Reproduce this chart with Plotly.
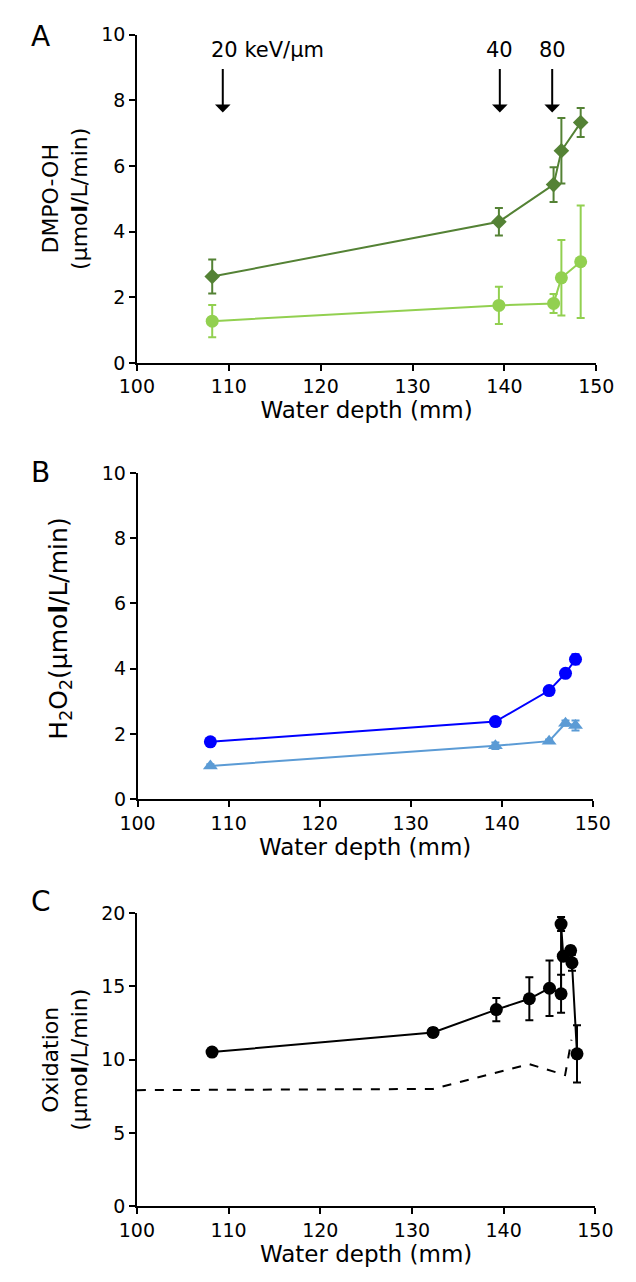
import plotly.graph_objects as go

FONT = "DejaVu Sans"

# Panel A: DMPO-OH
a_x_dark = [108.2, 139.4, 145.35, 146.2, 148.3]
a_y_dark = [2.63, 4.30, 5.43, 6.46, 7.32]
a_e_dark = [0.52, 0.42, 0.53, 1.00, 0.44]
a_x_light = [108.2, 139.4, 145.35, 146.2, 148.3]
a_y_light = [1.27, 1.75, 1.81, 2.59, 3.08]
a_e_light = [0.49, 0.57, 0.29, 1.15, 1.71]

# LET arrows
let_x = [109.35, 139.5, 145.2]
let_labels = ["20 keV/µm", "40", "80"]

# Panel B: H2O2
b_x_blue = [108.0, 139.3, 145.2, 147.0, 148.1]
b_y_blue = [1.76, 2.38, 3.33, 3.86, 4.29]
b_e_blue = [0.05, 0.05, 0.08, 0.08, 0.15]
b_x_lblue = [108.0, 139.3, 145.2, 147.0, 148.1]
b_y_lblue = [1.02, 1.64, 1.78, 2.33, 2.26]
b_e_lblue = [0.05, 0.10, 0.05, 0.08, 0.15]

# Panel C: Oxidation
c_x = [108.2, 132.3, 139.2, 142.8, 145.0, 146.26, 146.26, 146.5, 147.3, 147.45, 148.0]
c_y = [10.52, 11.86, 13.42, 14.16, 14.88, 14.50, 19.26, 17.07, 17.45, 16.62, 10.40]
c_e = [0.0, 0.30, 0.80, 1.47, 1.90, 1.30, 0.48, 0.3, 0.3, 0.55, 1.95]
c_dash_x = [100.0, 132.3, 142.8, 146.7, 147.4]
c_dash_y = [7.92, 8.00, 9.70, 8.95, 11.36]

x_ticks = [100, 110, 120, 130, 140, 150]

W, H = 636, 1282

fig = go.Figure()

def err(vals, color):
    return dict(type="data", array=vals, visible=True, color=color, thickness=2, width=4)

fig.add_trace(go.Scatter(x=a_x_dark, y=a_y_dark, mode="lines+markers", xaxis="x", yaxis="y",
                         line=dict(color="#548235", width=2),
                         marker=dict(symbol="diamond", size=12, color="#548235"),
                         error_y=err(a_e_dark, "#548235"), showlegend=False))
fig.add_trace(go.Scatter(x=a_x_light, y=a_y_light, mode="lines+markers", xaxis="x", yaxis="y",
                         line=dict(color="#92D050", width=2),
                         marker=dict(symbol="circle", size=13, color="#92D050"),
                         error_y=err(a_e_light, "#92D050"), showlegend=False))

fig.add_trace(go.Scatter(x=b_x_blue, y=b_y_blue, mode="lines+markers", xaxis="x2", yaxis="y2",
                         line=dict(color="#0000FF", width=2),
                         marker=dict(symbol="circle", size=13, color="#0000FF"),
                         error_y=err(b_e_blue, "#0000FF"), showlegend=False))
fig.add_trace(go.Scatter(x=b_x_lblue, y=b_y_lblue, mode="lines+markers", xaxis="x2", yaxis="y2",
                         line=dict(color="#5B9BD5", width=2),
                         marker=dict(symbol="triangle-up", size=13, color="#5B9BD5"),
                         error_y=err(b_e_lblue, "#5B9BD5"), showlegend=False))

fig.add_trace(go.Scatter(x=c_dash_x, y=c_dash_y, mode="lines", xaxis="x3", yaxis="y3",
                         line=dict(color="black", width=2, dash="dash"), showlegend=False))
fig.add_trace(go.Scatter(x=c_x, y=c_y, mode="lines+markers", xaxis="x3", yaxis="y3",
                         line=dict(color="black", width=2),
                         marker=dict(symbol="circle", size=13, color="black"),
                         error_y=err(c_e, "black"), showlegend=False))

def ax_common(fs):
    return dict(showline=True, linecolor="black", linewidth=1.5, ticks="outside",
                ticklen=6, tickcolor="black", tickwidth=1.5, showgrid=False, zeroline=False,
                tickfont=dict(family=FONT, size=fs, color="black"))

def xt(fs):
    return dict(text="Water depth (mm)", font=dict(family=FONT, size=fs, color="black"), standoff=4)

def xd(l, r):
    return [l / W, r / W]

def yd(top, bottom):
    return [1 - bottom / H, 1 - top / H]

fig.update_layout(
    width=W, height=H, autosize=False, margin=dict(l=0, r=0, t=0, b=0, pad=0),
    plot_bgcolor="white", paper_bgcolor="white",
    xaxis=dict(domain=xd(126, 613), range=[100, 150], tickvals=x_ticks, anchor="y", title=xt(23), **ax_common(19)),
    yaxis=dict(domain=yd(24, 358), range=[0, 10], dtick=2, anchor="x", **ax_common(19)),
    xaxis2=dict(domain=xd(126.7, 609.3), range=[100, 150], tickvals=x_ticks, anchor="y2", title=xt(23), **ax_common(19)),
    yaxis2=dict(domain=yd(470, 802), range=[0, 10], dtick=2, anchor="x2", **ax_common(19)),
    xaxis3=dict(domain=xd(126, 612), range=[100, 150], tickvals=x_ticks, anchor="y3", title=xt(23), **ax_common(19)),
    yaxis3=dict(domain=yd(918, 1216), range=[0, 20], dtick=5, anchor="x3", **ax_common(19)),
)

anns = []
for xv, lab in zip(let_x, let_labels):
    anns.append(dict(x=xv, y=7.63, xref="x", yref="y", ax=xv, ay=9.0, axref="x", ayref="y",
                     showarrow=True, arrowhead=1, arrowsize=1.3, arrowwidth=2, arrowcolor="black", text=""))
    if lab == let_labels[0]:
        anns.append(dict(x=xv, y=9.53, xref="x", yref="y", text=lab, showarrow=False,
                         xanchor="left", xshift=-14, font=dict(family=FONT, size=21, color="black")))
    else:
        anns.append(dict(x=xv, y=9.53, xref="x", yref="y", text=lab, showarrow=False,
                         xanchor="center", font=dict(family=FONT, size=21, color="black")))

for letter, yp in [("A", 26), ("B", 470), ("C", 906)]:
    anns.append(dict(x=24 / W, y=1 - yp / H, xref="paper", yref="paper", text=letter, showarrow=False,
                     xanchor="center", yanchor="middle", font=dict(family=FONT, size=28, color="black")))

ytitles = [("DMPO-OH<br>(µmo<b>l</b>/L/min)", 50, 191, 22),
           ("H<sub>2</sub>O<sub>2</sub>(µmo<b>l</b>/L/min)", 45, 628, 25),
           ("Oxidation<br>(µmo<b>l</b>/L/min)", 50, 1067, 22)]
for txt, xp, yp, fs in ytitles:
    anns.append(dict(x=xp / W, y=1 - yp / H, xref="paper", yref="paper", text=txt, showarrow=False,
                     textangle=-90, xanchor="center", yanchor="middle",
                     font=dict(family=FONT, size=fs, color="black")))

fig.update_layout(annotations=anns)
fig.write_html("out.html")
